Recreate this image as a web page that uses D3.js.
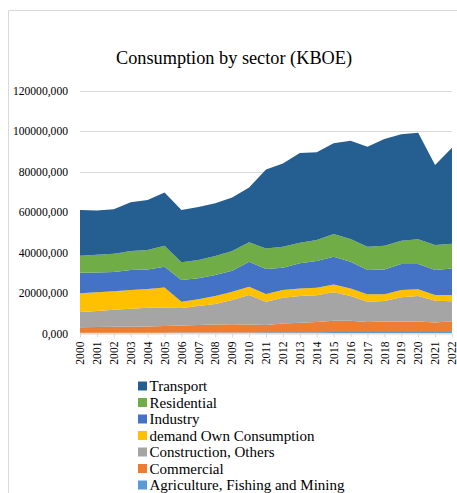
<!DOCTYPE html>
<html>
<head>
<meta charset="utf-8">
<script src="https://cdn.jsdelivr.net/npm/d3@7"></script>
<style>
  html, body { margin: 0; padding: 0; background: #fff; }
  svg { display: block; }
</style>
</head>
<body>
<svg id="chart" width="457" height="493"></svg>
<script>
// Final energy consumption by sector, KBOE
const years = d3.range(2000, 2023).map(String);

const agriculture = [300000,300000,300000,300000,300000,300000,400000,400000,400000,400000,400000,500000,500000,500000,500000,600000,600000,600000,600000,600000,600000,600000,600000];
const commercial = [2700000,2800000,2900000,3000000,3100000,3300000,3400000,3700000,4000000,4100000,4000000,3600000,4400000,4700000,5100000,5600000,5600000,5000000,5200000,5200000,5200000,4800000,5400000];
const construction = [7500000,7900000,8500000,8900000,9300000,9100000,8700000,9400000,10100000,12000000,14500000,11500000,12700000,13200000,13200000,14100000,12200000,10000000,10200000,12000000,12600000,10700000,9800000];
const ownConsumption = [9300000,9300000,9100000,9200000,9200000,10000000,3100000,3300000,4000000,4100000,4100000,3800000,3800000,3800000,3700000,3900000,3800000,3700000,3300000,3600000,3400000,2800000,3100000];
const industry = [10200000,9800000,9500000,9900000,9600000,10200000,10800000,10400000,10300000,10400000,12400000,12400000,11000000,12400000,13300000,13700000,13200000,12000000,12300000,12900000,12500000,12400000,13100000];
const residential = [8400000,8800000,9100000,9400000,9700000,10400000,8700000,9000000,9400000,9700000,9600000,10200000,10400000,10200000,10300000,11200000,11200000,11500000,11700000,11500000,12200000,12400000,12300000];
const transport = [22600000,21900000,22000000,24100000,24700000,26400000,25900000,26300000,26100000,26500000,27100000,39000000,41200000,44400000,43400000,44900000,48700000,49500000,52800000,52600000,52700000,39500000,47500000];

// stacking order, bottom to top
const seriesNames = ["Agriculture, Fishing and Mining", "Commercial", "Construction, Others", "demand Own Consumption", "Industry", "Residential", "Transport"];
const seriesValues = [agriculture, commercial, construction, ownConsumption, industry, residential, transport];
const seriesColors = ["#5b9bd5", "#ed7d31", "#a5a5a5", "#ffc000", "#4472c4", "#70ad47", "#255e91"];

const yTickValues = [0, 20000000, 40000000, 60000000, 80000000, 100000000, 120000000];
const yTickLabels = ["0,000", "20000,000", "40000,000", "60000,000", "80000,000", "100000,000", "120000,000"];

const FONT = '"Liberation Serif", "Times New Roman", serif';

const svg = d3.select("#chart");

// outer chart frame
svg.append("path")
  .attr("d", "M8.5,493 L8.5,10.5 L457,10.5")
  .attr("fill", "none")
  .attr("stroke", "#d9d9d9")
  .attr("stroke-width", 1);

svg.append("text")
  .attr("x", 234)
  .attr("y", 63.5)
  .attr("text-anchor", "middle")
  .style("font-family", FONT)
  .style("font-size", "18.3px")
  .attr("fill", "#000")
  .text("Consumption by sector (KBOE)");

const x = d3.scalePoint().domain(years).range([80, 452]);
const y = d3.scaleLinear().domain([0, 120000000]).range([333.3, 90.7]);

const table = years.map((yr, i) => {
  const row = { year: yr };
  seriesNames.forEach((n, k) => { row[n] = seriesValues[k][i]; });
  return row;
});

const stacked = d3.stack().keys(seriesNames)(table);

// gridlines
svg.append("g")
  .selectAll("line")
  .data(yTickValues.slice(1))
  .join("line")
  .attr("x1", 80).attr("x2", 452)
  .attr("y1", d => Math.round(y(d)) + 0.5)
  .attr("y2", d => Math.round(y(d)) + 0.5)
  .attr("stroke", "#d9d9d9")
  .attr("stroke-width", 1);

const area = d3.area()
  .x(d => x(d.data.year))
  .y0(d => y(d[0]))
  .y1(d => y(d[1]));

svg.append("g")
  .selectAll("path")
  .data(stacked)
  .join("path")
  .attr("fill", (d, i) => seriesColors[i])
  .attr("d", area);

// y axis labels
const yAxis = d3.axisLeft(y)
  .tickValues(yTickValues)
  .tickFormat((d, i) => yTickLabels[i])
  .tickSize(0)
  .tickPadding(0);

const gy = svg.append("g")
  .attr("transform", "translate(68,0)")
  .call(yAxis);
gy.select(".domain").remove();
gy.selectAll("text")
  .style("font-family", FONT)
  .style("font-size", "11.6px")
  .attr("fill", "#000");

// x axis with year labels rotated
const xAxis = d3.axisBottom(x).tickSize(4).tickPadding(0);
const gx = svg.append("g")
  .attr("transform", "translate(0,333.5)")
  .call(xAxis);
gx.select(".domain")
  .attr("stroke", "#d9d9d9")
  .attr("d", "M80,0.5H452");
gx.selectAll(".tick line").attr("stroke", "#d9d9d9");
gx.selectAll("text")
  .style("font-family", FONT)
  .style("font-size", "11.6px")
  .attr("fill", "#000")
  .attr("text-anchor", "end")
  .attr("dy", "0.32em")
  .attr("transform", "translate(0,8) rotate(-90)")
  .attr("x", 0)
  .attr("y", 0);

// legend, top series first
const legendOrder = d3.range(seriesNames.length).reverse();
const legend = svg.append("g")
  .selectAll("g")
  .data(legendOrder)
  .join("g")
  .attr("transform", (d, j) => `translate(138,${386 + j * 16.5})`);
legend.append("rect")
  .attr("x", 0).attr("y", -4.5)
  .attr("width", 9).attr("height", 9)
  .attr("fill", d => seriesColors[d]);
legend.append("text")
  .attr("x", 11.5)
  .attr("y", 0)
  .attr("dy", "0.35em")
  .style("font-family", FONT)
  .style("font-size", "15px")
  .attr("fill", "#000")
  .text(d => seriesNames[d]);
</script>
</body>
</html>
